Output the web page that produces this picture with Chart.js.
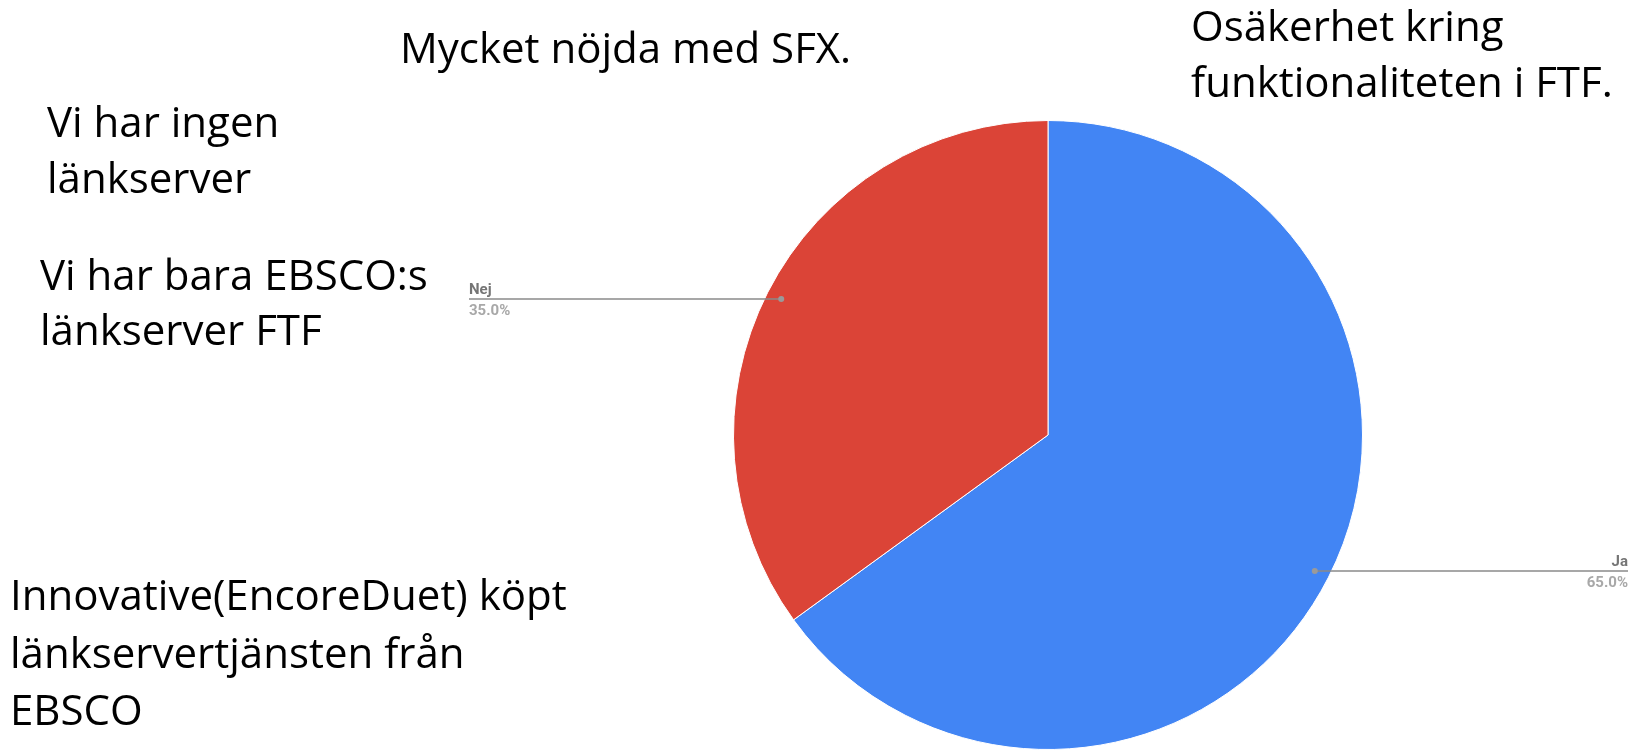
<!DOCTYPE html>
<html>
<head>
<meta charset="utf-8">
<script src="https://cdn.jsdelivr.net/npm/chart.js@4"></script>
<style>
	body { margin: 0; overflow: hidden; background: #fff; }
	.wrap { position: relative; width: 1639px; height: 750px; }
	#myChart { position: absolute; left: 0; top: 0; }
	.note { position: absolute; font-family: "Open Sans", sans-serif; font-size: 42px; line-height: 56px; color: #000; white-space: nowrap; }
</style>
</head>
<body>
<div class="wrap">
	<canvas id="myChart" width="1639" height="750"></canvas>
	<div class="note" style="left:400px; top:19px;">Mycket nöjda med SFX.</div>
	<div class="note" style="left:1191px; top:-3px;">Osäkerhet kring<br>funktionaliteten i FTF.</div>
	<div class="note" style="left:47px; top:93px;">Vi har ingen<br>länkserver</div>
	<div class="note" style="left:40px; top:246px; line-height:55px;">Vi har bara EBSCO:s<br>länkserver FTF</div>
	<div class="note" style="left:10px; top:565px; line-height:57.5px;">Innovative(EncoreDuet) köpt<br>länkservertjänsten från<br>EBSCO</div>
</div>
<script>
const labels = ['Ja', 'Nej'];
const values = [65, 35];
const colors = ['#4285F4', '#DB4437'];

// leader line labels, Google Charts style
const leaderLabels = {
	id: 'leaderLabels',
	afterDatasetsDraw(chart, args, opts) {
		const ctx = chart.ctx;
		const meta = chart.getDatasetMeta(0);
		const total = values.reduce((a, b) => a + b, 0);
		meta.data.forEach((arc, i) => {
			const mid = (arc.startAngle + arc.endAngle) / 2;
			const r = arc.outerRadius * 0.952;
			const px = arc.x + Math.cos(mid) * r;
			const py = arc.y + Math.sin(mid) * r;
			const left = Math.cos(mid) < 0;
			const ex = left ? opts.leftX : opts.rightX;

			ctx.save();
			ctx.strokeStyle = '#8a8a8a';
			ctx.lineWidth = 1.5;
			ctx.beginPath();
			ctx.moveTo(px, py);
			ctx.lineTo(ex, py);
			ctx.stroke();
			ctx.fillStyle = '#9a9a9a';
			ctx.beginPath();
			ctx.arc(px, py, 3, 0, Math.PI * 2);
			ctx.fill();

			ctx.textAlign = left ? 'left' : 'right';
			ctx.textBaseline = 'alphabetic';
			ctx.font = 'bold 15px Roboto';
			ctx.fillStyle = '#757575';
			ctx.fillText(labels[i], ex, py - 5);
			ctx.fillStyle = '#a8a8a8';
			ctx.fillText((values[i] / total * 100).toFixed(1) + '%', ex, py + 16);
			ctx.restore();
		});
	}
};

const ctx = document.getElementById('myChart');

new Chart(ctx, {
	type: 'pie',
	data: {
		labels: labels,
		datasets: [{
			data: values,
			backgroundColor: colors,
			borderColor: '#ffffff',
			borderWidth: 1
		}]
	},
	options: {
		responsive: false,
		animation: false,
		layout: {
			padding: { top: 120, left: 732, right: 275, bottom: 0 }
		},
		plugins: {
			legend: { display: false },
			tooltip: { enabled: false },
			leaderLabels: { leftX: 469, rightX: 1628 }
		}
	},
	plugins: [leaderLabels]
});
</script>
</body>
</html>
